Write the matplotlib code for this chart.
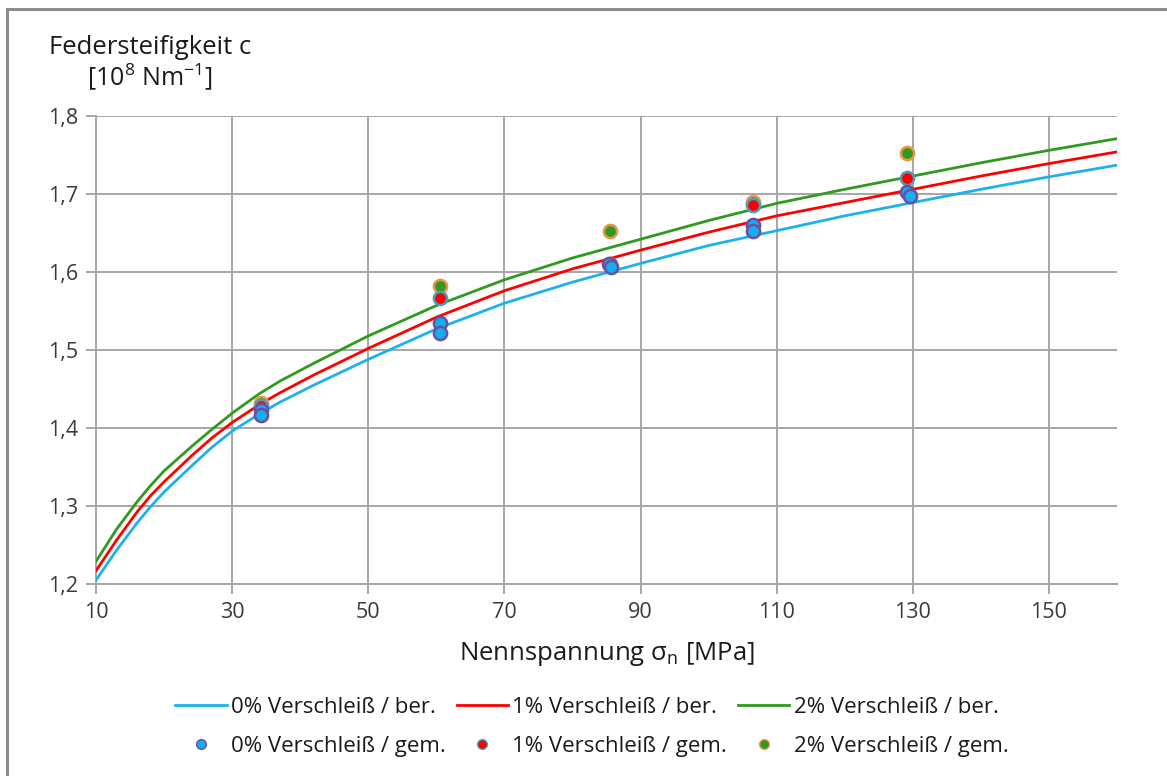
import matplotlib
matplotlib.use("Agg")
import matplotlib.pyplot as plt
from matplotlib.lines import Line2D
from matplotlib.patches import Rectangle

# ---- data ----
x_curve = [10, 13, 16, 18, 20, 24, 27, 30, 34, 37, 42, 50, 60, 70, 80, 90, 100, 110, 120, 130, 140, 150, 160]
c0_ber = [1.205, 1.243, 1.278, 1.299, 1.318, 1.351, 1.375, 1.396, 1.418, 1.433, 1.455, 1.488,
          1.527, 1.560, 1.587, 1.611, 1.634, 1.653, 1.672, 1.689, 1.706, 1.722, 1.737]
c1_ber = [1.217, 1.256, 1.292, 1.313, 1.331, 1.364, 1.387, 1.407, 1.430, 1.445, 1.468, 1.502,
          1.542, 1.576, 1.604, 1.628, 1.651, 1.672, 1.689, 1.706, 1.723, 1.739, 1.754]
c2_ber = [1.229, 1.270, 1.305, 1.326, 1.345, 1.376, 1.398, 1.419, 1.444, 1.460, 1.483, 1.518,
          1.557, 1.590, 1.618, 1.642, 1.666, 1.688, 1.706, 1.723, 1.740, 1.756, 1.771]

x0_gem = [34.3, 34.3, 60.5, 60.5, 85.4, 85.7, 106.5, 106.5, 129.2, 129.6]
c0_gem = [1.423, 1.417, 1.535, 1.522, 1.610, 1.606, 1.660, 1.652, 1.702, 1.697]
x1_gem = [34.3, 60.5, 85.5, 106.5, 129.2]
c1_gem = [1.428, 1.567, 1.610, 1.686, 1.720]
x2_gem = [34.3, 60.5, 85.5, 106.5, 129.2]
c2_gem = [1.432, 1.582, 1.652, 1.690, 1.752]

labels_ber = ["0% Verschleiß / ber.", "1% Verschleiß / ber.", "2% Verschleiß / ber."]
labels_gem = ["0% Verschleiß / gem.", "1% Verschleiß / gem.", "2% Verschleiß / gem."]

x_ticks = [10, 30, 50, 70, 90, 110, 130, 150]
y_ticks = [1.2, 1.3, 1.4, 1.5, 1.6, 1.7, 1.8]
y_ticklabels = ["1,2", "1,3", "1,4", "1,5", "1,6", "1,7", "1,8"]

plt.rcParams['font.family'] = ['Open Sans', 'DejaVu Sans']
plt.rcParams['mathtext.fontset'] = 'custom'
plt.rcParams['mathtext.rm'] = 'Open Sans'
plt.rcParams['mathtext.it'] = 'Open Sans'

fig = plt.figure(figsize=(11.67, 7.76), dpi=100)
fig.patch.set_facecolor('white')
# outer frame
fig.add_artist(Rectangle((7 / 1167, -0.05), 1.2, 1 - 9 / 776 + 0.05, transform=fig.transFigure,
                         fill=False, edgecolor='#8c8c8c', linewidth=2.2))

ax = fig.add_axes([96 / 1167, 1 - 584 / 776, (1117 - 96) / 1167, (584 - 116) / 776])

col_b, col_r, col_g = '#1DB1EE', '#FF0000', '#2E9B1E'
lb, = ax.plot(x_curve, c0_ber, color=col_b, lw=2.0, zorder=3)
lr, = ax.plot(x_curve, c1_ber, color=col_r, lw=2.0, zorder=3)
lg, = ax.plot(x_curve, c2_ber, color=col_g, lw=2.0, zorder=3)

ms = 9.5
ax.scatter(x2_gem, c2_gem, s=ms**2, facecolor='#2E9B1E', edgecolor='#E8944A', linewidth=1.8, zorder=4)
ax.scatter(x1_gem, c1_gem, s=ms**2, facecolor='#FF0000', edgecolor='#4C9FB8', linewidth=1.8, zorder=5)
ax.scatter(x0_gem, c0_gem, s=ms**2, facecolor='#12AEEF', edgecolor='#6E4E9E', linewidth=1.8, zorder=6)

ax.set_xlim(10, 160)
ax.set_ylim(1.2, 1.8)
ax.set_xticks(x_ticks)
ax.set_xticklabels([str(v) for v in x_ticks])
ax.set_yticks(y_ticks)
ax.set_yticklabels(y_ticklabels)
ax.grid(True, color='#a6a6a6', linewidth=1.4, zorder=0)
ax.set_axisbelow(True)
for s in ['top', 'right']:
    ax.spines[s].set_visible(False)
for s in ['left', 'bottom']:
    ax.spines[s].set_color('#a6a6a6')
    ax.spines[s].set_linewidth(1.4)
ax.tick_params(axis='both', length=7, width=1.4, color='#a6a6a6', labelsize=15.5,
               labelcolor='#3a3a3a', pad=6)

ax.set_xlabel(r"Nennspannung σ$_\mathrm{n}$ [MPa]", fontsize=18.5, color='#1a1a1a', labelpad=12,
              fontweight='medium')
fig.text(150 / 1167, 1 - 47 / 776, "Federsteifigkeit c", fontsize=18.5, ha='center', va='center',
         color='#1a1a1a', fontweight='medium')
fig.text(150 / 1167, 1 - 77 / 776, r"[10$^\mathrm{8}$ Nm$^\mathrm{-1}$]", fontsize=18, ha='center',
         va='center', color='#1a1a1a', fontweight='medium')

hb = Line2D([], [], ls='none', marker='o', markersize=7, markerfacecolor='#12AEEF', markeredgecolor='#6E4E9E', markeredgewidth=1)
hr = Line2D([], [], ls='none', marker='o', markersize=7, markerfacecolor='#FF0000', markeredgecolor='#4C9FB8', markeredgewidth=1)
hg = Line2D([], [], ls='none', marker='o', markersize=7, markerfacecolor='#2E9B1E', markeredgecolor='#E8944A', markeredgewidth=1)

handles = [lb, hb, lr, hr, lg, hg]
labels = [labels_ber[0], labels_gem[0], labels_ber[1], labels_gem[1], labels_ber[2], labels_gem[2]]
leg = fig.legend(handles, labels, ncol=3, loc='center', bbox_to_anchor=(592 / 1167, 1 - 727 / 776),
                 frameon=False, prop={'family': ['Open Sans', 'DejaVu Sans'], 'size': 16},
                 handlelength=2.3, handletextpad=0.2, columnspacing=0.5, labelspacing=0.8)
for t in leg.get_texts():
    t.set_color('#1a1a1a')

fig.savefig("out.png", dpi=100)
